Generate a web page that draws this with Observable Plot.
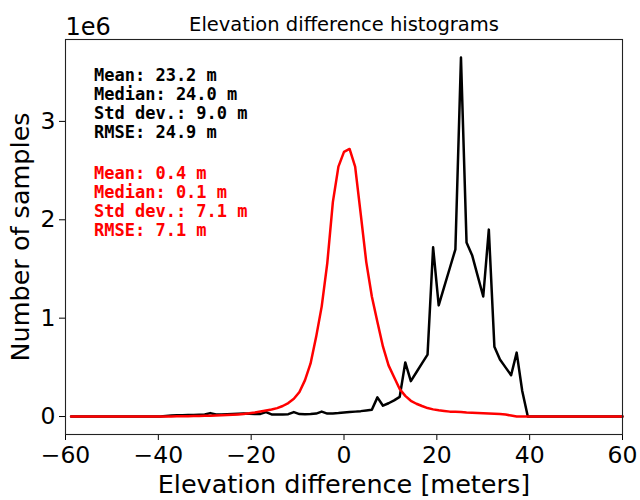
<!DOCTYPE html>
<html>
<head>
<meta charset="utf-8">
<script src="https://cdn.jsdelivr.net/npm/d3@7"></script>
<script src="https://cdn.jsdelivr.net/npm/@observablehq/plot@0.6"></script>
<style>
  html, body { margin: 0; padding: 0; background: #fff; }
  #chart svg { display: block; }
</style>
</head>
<body>
<div id="chart"></div>
<script>
// ---- data ----
const titleText = "Elevation difference histograms";
const xLabel = "Elevation difference [meters]";
const yLabel = "Number of samples";
const yOffsetText = "1e6";
const xTicks = [-60, -40, -20, 0, 20, 40, 60];
const yTicks = [0, 1e6, 2e6, 3e6];

// histogram grid: bin right edges from -58.8 to 60 m, 1.2 m wide
const binFirst = -58.8;
const binWidth = 1.2;

// black series (before correction), millions of samples
const blackCounts = [
  0,0,0,0,0,0,0,0,0,0,0,0,0,0,0,0,0,
  0.005,0.01,0.012,0.014,0.015,0.016,0.018,0.02,0.035,0.02,
  0.022,0.024,0.026,0.028,0.03,0.028,0.025,0.027,0.045,0.022,
  0.02,0.022,0.024,0.045,0.025,0.024,0.025,0.03,0.05,0.03,
  0.032,0.035,0.04,0.045,0.05,0.055,0.062,0.07,0.195,0.11,
  0.135,0.165,0.20,0.55,0.36,0.45,0.54,0.63,1.72,1.13,
  1.32,1.51,1.70,3.65,1.77,1.64,1.43,1.22,1.90,0.71,
  0.58,0.50,0.42,0.65,0.26,
  0,0,0,0,0,0,0,0,0,0,0,0,0,0,0,0,0,0
];

// red series (after correction), millions of samples
const redCounts = [
  0,0,0,0,0,0,0,0,0,0,0,0,0,0,0,0,
  0.0005,0.001,0.0015,0.002,0.003,0.004,0.005,0.006,0.007,0.008,
  0.01,0.012,0.015,0.018,0.022,0.027,0.033,0.041,0.051,0.061,
  0.071,0.086,0.107,0.137,0.18,0.25,0.37,0.54,0.81,1.12,
  1.56,2.18,2.54,2.69,2.72,2.54,2.06,1.57,1.22,0.96,
  0.71,0.52,0.40,0.28,0.21,0.16,0.13,0.107,0.086,0.073,
  0.063,0.056,0.05,0.048,0.045,0.04,0.038,0.036,0.033,0.03,
  0.028,0.025,0.02,0.01,
  0,0,0,0,0,0,0,0,0,0,0,0,0,0,0,0,0,0,0,0
];

const blackStats = ["Mean: 23.2 m", "Median: 24.0 m", "Std dev.: 9.0 m", "RMSE: 24.9 m"];
const redStats = ["Mean: 0.4 m", "Median: 0.1 m", "Std dev.: 7.1 m", "RMSE: 7.1 m"];

// ---- build tables ----
const toRows = (arr) => arr.map((v, i) => ({x: +(binFirst + i * binWidth).toFixed(2), y: v * 1e6}));
const blackRows = toRows(blackCounts);
const redRows = toRows(redCounts);
const ymax = d3.max([...blackRows, ...redRows], d => d.y);

const minus = d => (d < 0 ? "\u2212" + Math.abs(d) : String(d));

const chart = Plot.plot({
  width: 640,
  height: 500,
  marginLeft: 65,
  marginRight: 18,
  marginTop: 39,
  marginBottom: 66,
  style: {fontFamily: "DejaVu Sans", background: "#fff", color: "#000", overflow: "visible"},
  x: {domain: [-60, 60]},
  y: {domain: [-0.05 * ymax, 1.05 * ymax]},
  marks: [
    Plot.axisX({ticks: xTicks, tickSize: 6, tickPadding: 6, fontSize: 23.5, tickFormat: minus, label: null}),
    Plot.axisY({ticks: yTicks, tickSize: 6, tickPadding: 4, fontSize: 23.5, tickFormat: d => d / 1e6, label: null}),
    Plot.line(blackRows, {x: "x", y: "y", stroke: "#000", strokeWidth: 2.5}),
    Plot.line(redRows, {x: "x", y: "y", stroke: "#ff0000", strokeWidth: 2.5}),
    Plot.frame({stroke: "#222", strokeWidth: 1.1}),
    Plot.text([blackStats.join("\n")], {
      text: d => d, frameAnchor: "top-left", textAnchor: "start", lineAnchor: "top",
      dx: 28.5, dy: 28.1, lineHeight: 1.124, fontSize: 17, fontWeight: "bold",
      fontFamily: "DejaVu Sans Mono", fill: "#000"
    }),
    Plot.text([redStats.join("\n")], {
      text: d => d, frameAnchor: "top-left", textAnchor: "start", lineAnchor: "top",
      dx: 28.5, dy: 125.7, lineHeight: 1.124, fontSize: 17, fontWeight: "bold",
      fontFamily: "DejaVu Sans Mono", fill: "#ff0000"
    }),
    Plot.text([titleText], {
      text: d => d, frameAnchor: "top", textAnchor: "middle", lineAnchor: "bottom",
      dy: -8.5, fontSize: 19.5, fill: "#000"
    }),
    Plot.text([yOffsetText], {
      text: d => d, frameAnchor: "top-left", textAnchor: "start", lineAnchor: "bottom",
      dy: -4.7, dx: 0, fontSize: 24, fill: "#000"
    }),
    Plot.text([xLabel], {
      text: d => d, frameAnchor: "bottom", textAnchor: "middle", lineAnchor: "bottom",
      dy: 58, fontSize: 25.5, fill: "#000"
    }),
    Plot.text([yLabel], {
      text: d => d, frameAnchor: "left", textAnchor: "middle", lineAnchor: "bottom",
      rotate: -90, dx: -37, fontSize: 25.5, fill: "#000"
    })
  ]
});

document.getElementById("chart").appendChild(chart);
</script>
</body>
</html>
